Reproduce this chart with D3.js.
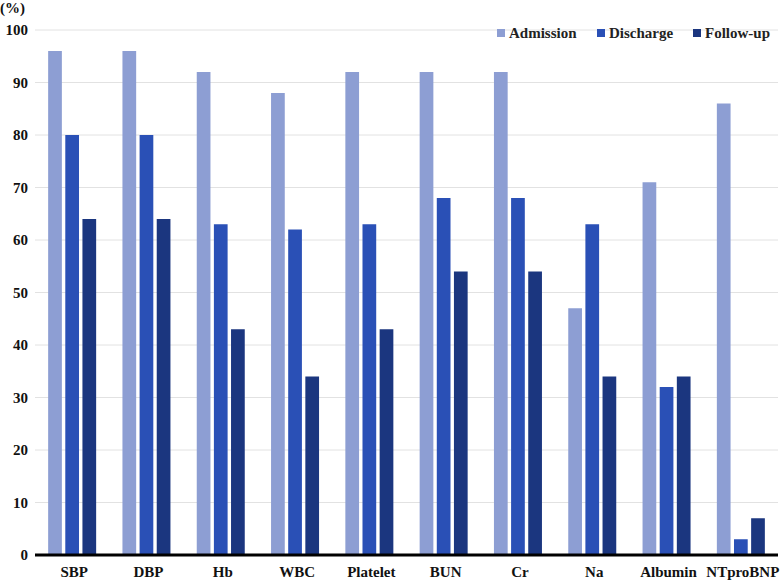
<!DOCTYPE html>
<html>
<head>
<meta charset="utf-8">
<script src="https://cdn.jsdelivr.net/npm/d3@7"></script>
<style>
  body { margin: 0; background: #fff; }
  text { font-family: "Liberation Serif", "Times New Roman", serif; font-weight: bold; }
</style>
</head>
<body>
<div id="chart"></div>
<script>
// Data
const categories = ["SBP", "DBP", "Hb", "WBC", "Platelet", "BUN", "Cr", "Na", "Albumin", "NTproBNP"];
const seriesNames = ["Admission", "Discharge", "Follow-up"];
const admission = [96, 96, 92, 88, 92, 92, 92, 47, 71, 86];
const discharge = [80, 80, 63, 62, 63, 68, 68, 63, 32, 3];
const followUp = [64, 64, 43, 34, 43, 54, 54, 34, 34, 7];
const yTicks = [0, 10, 20, 30, 40, 50, 60, 70, 80, 90, 100];

const seriesValues = [admission, discharge, followUp];
const colors = ["#8d9ed3", "#2a50b6", "#1b367f"];

const width = 781, height = 581;
const margin = {top: 30, right: 3, bottom: 26, left: 35};

const svg = d3.select("#chart")
    .append("svg")
    .attr("width", width)
    .attr("height", height);

const xScale = d3.scaleBand()
    .domain(categories)
    .range([margin.left, width - margin.right]);

const xInner = d3.scaleBand()
    .domain(seriesNames)
    .range([0, 48])
    .paddingInner(0.2);

const yScale = d3.scaleLinear()
    .domain([0, 100])
    .range([height - margin.bottom, margin.top]);

// Gridlines
svg.append("g")
    .selectAll("line")
    .data(yTicks.filter(d => d > 0))
    .enter().append("line")
    .attr("x1", margin.left)
    .attr("x2", width - margin.right)
    .attr("y1", d => yScale(d))
    .attr("y2", d => yScale(d))
    .attr("stroke", "#e2e2e2")
    .attr("stroke-width", 1);

// Y tick labels
svg.append("g")
    .selectAll("text")
    .data(yTicks)
    .enter().append("text")
    .attr("x", 28)
    .attr("y", d => yScale(d))
    .attr("dy", "0.35em")
    .attr("text-anchor", "end")
    .style("font-size", "15px")
    .attr("fill", "#111")
    .text(d => d);

// Unit label
svg.append("text")
    .attr("x", 0)
    .attr("y", 13)
    .style("font-size", "15px")
    .attr("fill", "#111")
    .text("(%)");

// Bars
const groups = svg.append("g")
    .selectAll("g")
    .data(categories)
    .enter().append("g")
    .attr("transform", d => `translate(${xScale(d) + xScale.bandwidth() / 2 - 24},0)`);

groups.selectAll("rect")
    .data((d, i) => seriesNames.map((s, j) => ({s, v: seriesValues[j][i], j})))
    .enter().append("rect")
    .attr("x", d => xInner(d.s))
    .attr("y", d => yScale(d.v))
    .attr("width", xInner.bandwidth())
    .attr("height", d => yScale(0) - yScale(d.v))
    .attr("fill", d => colors[d.j]);

// X axis line
svg.append("line")
    .attr("x1", margin.left)
    .attr("x2", width - margin.right)
    .attr("y1", yScale(0))
    .attr("y2", yScale(0))
    .attr("stroke", "#000")
    .attr("stroke-width", 3);

// Category labels
svg.append("g")
    .selectAll("text")
    .data(categories)
    .enter().append("text")
    .attr("x", d => xScale(d) + xScale.bandwidth() / 2 + 2)
    .attr("y", 577)
    .attr("text-anchor", "middle")
    .style("font-size", "15px")
    .attr("fill", "#111")
    .text(d => d);

// Legend
const legendX = [497, 597, 693];
const legend = svg.append("g")
    .selectAll("g")
    .data(seriesNames)
    .enter().append("g")
    .attr("transform", (d, i) => `translate(${legendX[i]},33)`);

legend.append("rect")
    .attr("x", 0)
    .attr("y", -4)
    .attr("width", 8)
    .attr("height", 8)
    .attr("fill", (d, i) => colors[i]);

legend.append("text")
    .attr("x", 12)
    .attr("y", 0)
    .attr("dy", "0.35em")
    .style("font-size", "15px")
    .attr("fill", "#222")
    .text(d => d);
</script>
</body>
</html>
